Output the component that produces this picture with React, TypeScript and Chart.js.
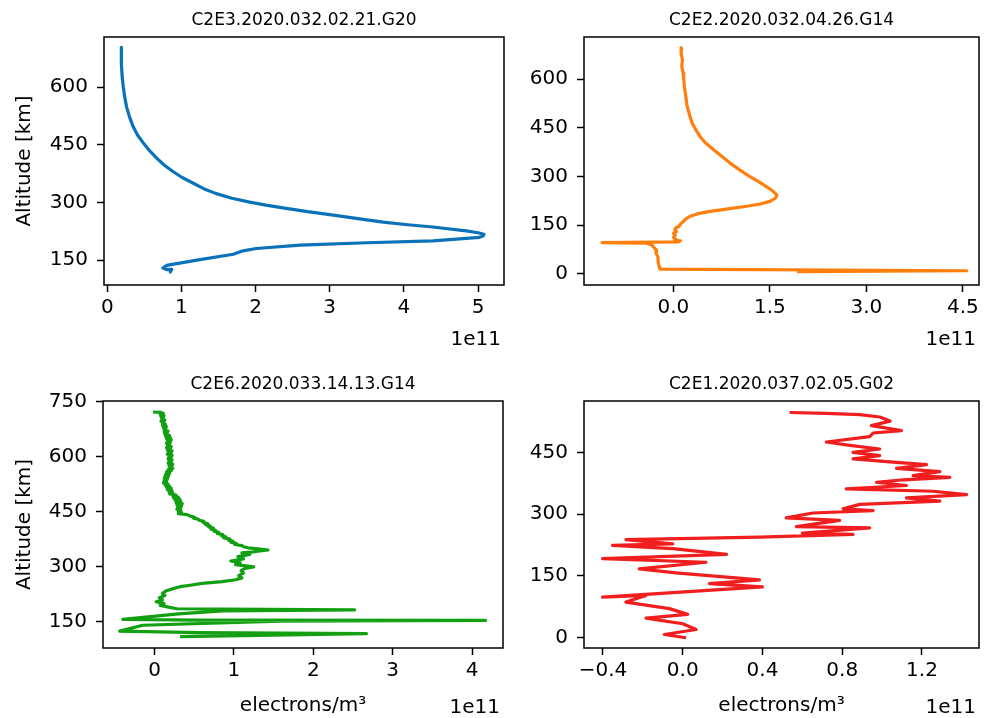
import React, { useEffect, useRef } from "react";
import { Chart, registerables } from "chart.js";

Chart.register(...registerables);

const W = 997;
const H = 718;
const FONT = "'DejaVu Sans', 'Liberation Sans', sans-serif";

// Panel titles
const titles = [
  "C2E3.2020.032.02.21.G20",
  "C2E2.2020.032.04.26.G14",
  "C2E6.2020.033.14.13.G14",
  "C2E1.2020.037.02.05.G02",
];

// Densities are in units of 1e11 electrons/m^3, altitudes in km
const p1Density = [0.19, 0.19, 0.19, 0.2, 0.216, 0.235, 0.26, 0.3, 0.35, 0.41, 0.49, 0.57, 0.67, 0.77, 0.89, 1.01, 1.16, 1.3, 1.47, 1.68, 1.92, 2.14, 2.37, 2.7, 3.05, 3.38, 3.72, 4.05, 4.39, 4.84, 5.0, 5.08, 5.07, 5.02, 4.39, 3.5, 2.6, 2.01, 1.83, 1.7, 1.25, 0.8, 0.75, 0.8, 0.87, 0.85, 0.86];
const p1Altitude = [704, 690, 663, 630, 601, 575, 549, 523, 497, 475, 454, 435, 415, 397, 380, 365, 350, 336, 323, 311, 301, 293, 286, 276, 267, 258, 249, 242, 236, 226, 221, 217, 213, 209, 200, 195, 189, 180, 174, 165, 151, 136, 129, 125, 126, 119, 116];

const p2Density = [0.13, 0.12, 0.14, 0.13, 0.15, 0.16, 0.17, 0.19, 0.21, 0.25, 0.29, 0.35, 0.41, 0.5, 0.62, 0.75, 0.88, 1.03, 1.19, 1.33, 1.45, 1.55, 1.61, 1.58, 1.5, 1.35, 1.14, 0.85, 0.57, 0.38, 0.26, 0.19, 0.15, 0.12, 0.1, 0.08, 0.04, 0.02, 0.05, 0.0, 0.03, 0.0, 0.04, 0.02, 0.11, 0.08, -1.11, -0.42, -0.33, -0.3, -0.26, -0.27, -0.24, -0.24, -0.23, -0.22, -0.21, 4.56, 1.92];
const p2Altitude = [697, 680, 660, 640, 620, 600, 577, 550, 520, 490, 465, 443, 424, 403, 383, 362, 341, 320, 299, 283, 268, 254, 242, 232, 223, 215, 208, 200, 192, 185, 177, 168, 160, 155, 150, 145, 142, 136, 130, 125, 119, 112, 106, 103, 101, 98, 96, 94, 88, 80, 72, 62, 52, 40, 28, 20, 14, 9, 6];

const p3Density = [
  -0.02, 0.08, 0.11, 0.07, 0.12, 0.08, 0.11, 0.09, 0.13, 0.08,
  0.12, 0.1, 0.14, 0.1, 0.15, 0.11, 0.14, 0.12, 0.17, 0.12,
  0.16, 0.13, 0.19, 0.14, 0.2, 0.15, 0.21, 0.16, 0.2, 0.15,
  0.19, 0.16, 0.21, 0.15, 0.2, 0.16, 0.22, 0.17, 0.21, 0.16,
  0.22, 0.18, 0.21, 0.17, 0.22, 0.18, 0.21, 0.17, 0.23, 0.18,
  0.22, 0.19, 0.23, 0.17, 0.21, 0.15, 0.19, 0.14, 0.18, 0.13,
  0.17, 0.12, 0.16, 0.12, 0.15, 0.11, 0.17, 0.13, 0.19, 0.15,
  0.21, 0.16, 0.22, 0.18, 0.23, 0.19, 0.27, 0.23, 0.3, 0.24,
  0.32, 0.26, 0.33, 0.27, 0.35, 0.28, 0.34, 0.29, 0.33, 0.28,
  0.33, 0.3, 0.34, 0.3, 0.42, 0.44, 0.5, 0.49, 0.55, 0.56,
  0.62, 0.61, 0.67, 0.64, 0.7, 0.68, 0.74, 0.71, 0.77, 0.75,
  0.81, 0.79, 0.86, 0.84, 0.9, 0.87, 0.95, 0.93, 0.99, 0.96,
  1.03, 1.01, 1.1, 1.12, 1.18, 1.3, 1.43, 1.3,
  1.22, 1.1, 1.2, 1.05, 1.12, 0.96, 1.08, 1.02, 1.25, 1.14,
  1.09, 1.12, 1.06, 1.1, 1.02, 0.85, 0.6, 0.45, 0.32, 0.22,
  0.14, 0.1, 0.13, 0.06, 0.1, 0.02, 0.12, 0.07, 0.16, 0.28,
  2.52, 0.86, 0.3, -0.4, 0.56, 4.17, 1.58, -0.15, -0.44, 0.56,
  2.67, 0.32,
];
const p3Altitude = [
  722, 721, 718, 715, 712, 709, 706, 703, 700, 697,
  694, 691, 688, 685, 682, 679, 676, 673, 670, 667,
  664, 661, 658, 655, 652, 649, 646, 643, 640, 637,
  634, 631, 628, 625, 622, 619, 616, 613, 610, 607,
  604, 601, 598, 595, 592, 589, 586, 583, 580, 577,
  574, 571, 568, 565, 562, 559, 556, 553, 550, 547,
  544, 541, 538, 535, 532, 529, 526, 523, 520, 517,
  514, 511, 508, 505, 502, 499, 496, 493, 490, 487,
  484, 481, 478, 475, 472, 469, 466, 463, 460, 457,
  454, 451, 448, 445, 442, 439, 436, 433, 430, 427,
  424, 421, 418, 415, 412, 409, 406, 403, 400, 397,
  394, 391, 388, 385, 382, 379, 376, 373, 370, 367,
  364, 361, 358, 355, 352, 349, 346, 343,
  340, 338, 334, 328, 322, 316, 311, 306, 300, 296,
  290, 283, 276, 270, 265, 260, 255, 250, 246, 240,
  234, 228, 222, 216, 210, 205, 200, 195, 191, 186,
  183, 180, 172, 157, 155, 154, 152, 141, 125, 121,
  118, 110,
];

const p4Density = [0.536, 0.72, 0.888, 0.988, 1.04, 0.946, 1.097, 0.955, 0.938, 0.72, 0.838, 0.988, 0.854, 0.988, 0.854, 1.055, 1.223, 1.072, 1.29, 1.156, 1.34, 1.106, 0.972, 1.122, 0.82, 1.256, 1.424, 1.122, 1.29, 0.888, 0.804, 0.955, 0.653, 0.519, 0.787, 0.57, 0.938, 0.6, 0.854, 0.385, -0.285, -0.05, -0.352, -0.05, 0.22, -0.402, 0.117, -0.218, -0.034, 0.385, 0.134, 0.4, -0.402, -0.184, -0.285, -0.067, 0.025, -0.184, 0.0, 0.067, -0.092, 0.017];
const p4Altitude = [548, 546, 543, 537, 527, 516, 504, 498, 489, 476, 468, 459, 451, 443, 435, 427, 421, 412, 404, 394, 390, 384, 378, 370, 362, 356, 348, 340, 332, 324, 313, 309, 303, 291, 285, 270, 267, 254, 251, 244, 238, 228, 224, 216, 202, 192, 183, 167, 157, 140, 131, 123, 98, 102, 86, 70, 56, 47, 33, 19, 7, -1];

// Tick values
const p1XTicks = [0, 1, 2, 3, 4, 5];
const p1YTicks = [150, 300, 450, 600];
const p2XTicks = [0, 1.5, 3.0, 4.5];
const p2YTicks = [0, 150, 300, 450, 600];
const p3XTicks = [0, 1, 2, 3, 4];
const p3YTicks = [150, 300, 450, 600, 750];
const p4XTicks = [-0.4, 0.0, 0.4, 0.8, 1.2];
const p4YTicks = [0, 150, 300, 450];

// Axis ranges
const p1XRange = [-0.044, 5.35];
const p1YRange = [85, 731];
const p2XRange = [-1.39, 4.75];
const p2YRange = [-35, 730];
const p3XRange = [-0.65, 4.39];
const p3YRange = [79, 752];
const p4XRange = [-0.495, 1.486];
const p4YRange = [-26, 576];

const colors = ["#0a72b8", "#ff7f0e", "#12a012", "#f01e1e"];

type Panel = {
  title: string;
  xs: number[];
  ys: number[];
  xTicks: number[];
  yTicks: number[];
  xRange: number[];
  yRange: number[];
  xDec: number;
  color: string;
  area: { L: number; T: number; R: number; B: number };
  padL: number;
  yLabel: boolean;
  xLabel: boolean;
  offsetDy: number;
};

const panels: Panel[] = [
  { title: titles[0], xs: p1Density, ys: p1Altitude, xTicks: p1XTicks, yTicks: p1YTicks, xRange: p1XRange, yRange: p1YRange, xDec: 0, color: colors[0], area: { L: 104, T: 37, R: 504, B: 285 }, padL: 0, yLabel: true, xLabel: false, offsetDy: 60 },
  { title: titles[1], xs: p2Density, ys: p2Altitude, xTicks: p2XTicks, yTicks: p2YTicks, xRange: p2XRange, yRange: p2YRange, xDec: 1, color: colors[1], area: { L: 584, T: 37, R: 979, B: 285 }, padL: 520, yLabel: false, xLabel: false, offsetDy: 60 },
  { title: titles[2], xs: p3Density, ys: p3Altitude, xTicks: p3XTicks, yTicks: p3YTicks, xRange: p3XRange, yRange: p3YRange, xDec: 0, color: colors[2], area: { L: 103, T: 401, R: 503, B: 648 }, padL: 0, yLabel: true, xLabel: true, offsetDy: 65 },
  { title: titles[3], xs: p4Density, ys: p4Altitude, xTicks: p4XTicks, yTicks: p4YTicks, xRange: p4XRange, yRange: p4YRange, xDec: 1, color: colors[3], area: { L: 584, T: 401, R: 979, B: 648 }, padL: 520, yLabel: false, xLabel: true, offsetDy: 65 },
];

const fmt = (v: number, dec: number) => Number(v).toFixed(dec).replace("-", "\u2212");

const framePlugin = {
  id: "frameText",
  afterDraw(chart: any, _args: any, opts: any) {
    const { ctx, chartArea: a } = chart;
    ctx.save();
    ctx.strokeStyle = "#000";
    ctx.lineWidth = 1.5;
    ctx.strokeRect(a.left, a.top, a.right - a.left, a.bottom - a.top);
    ctx.fillStyle = "#000";
    ctx.font = `17px ${FONT}`;
    ctx.textAlign = "center";
    ctx.textBaseline = "alphabetic";
    ctx.fillText(opts.title, (a.left + a.right) / 2, a.top - 12);
    ctx.font = `20px ${FONT}`;
    ctx.textAlign = "right";
    ctx.fillText("1e11", a.right - 3, a.bottom + opts.offsetDy);
    ctx.restore();
  },
};

function PanelChart({ p }: { p: Panel }) {
  const ref = useRef<HTMLCanvasElement | null>(null);
  useEffect(() => {
    if (!ref.current) return;
    const X_AXIS_H = 70;
    const points = p.xs.map((x, i) => ({ x, y: p.ys[i] }));
    const tickFont = { family: FONT, size: 20, lineHeight: 1.2 };
    const chart = new Chart(ref.current, {
      type: "scatter",
      data: {
        datasets: [
          {
            data: points,
            showLine: true,
            borderColor: p.color,
            backgroundColor: p.color,
            borderWidth: 3.2,
            pointRadius: 0,
            fill: false,
            tension: 0,
            borderJoinStyle: "round",
          } as any,
        ],
      },
      options: {
        responsive: false,
        animation: false,
        devicePixelRatio: 1,
        events: [],
        layout: {
          padding: {
            left: p.padL,
            top: p.area.T,
            right: W - p.area.R,
            bottom: H - p.area.B - X_AXIS_H,
          },
        },
        plugins: {
          legend: { display: false },
          tooltip: { enabled: false },
          title: { display: false },
          frameText: { title: p.title, offsetDy: p.offsetDy },
        } as any,
        scales: {
          x: {
            type: "linear",
            min: p.xRange[0],
            max: p.xRange[1],
            afterBuildTicks: (s: any) => {
              s.ticks = p.xTicks.map((v) => ({ value: v }));
            },
            afterFit: (s: any) => {
              s.height = X_AXIS_H;
            },
            grid: { drawOnChartArea: false, drawTicks: true, tickLength: 7, tickWidth: 1.5, tickColor: "#000" },
            border: { display: false },
            ticks: {
              color: "#000",
              font: tickFont,
              padding: 4,
              autoSkip: false,
              maxRotation: 0,
              minRotation: 0,
              callback: (v: any) => fmt(Number(v), p.xDec),
            },
            title: {
              display: p.xLabel,
              text: "electrons/m\u00b3",
              color: "#000",
              font: tickFont,
              padding: { top: 0, bottom: 0 },
            },
          },
          y: {
            type: "linear",
            min: p.yRange[0],
            max: p.yRange[1],
            afterBuildTicks: (s: any) => {
              s.ticks = p.yTicks.map((v) => ({ value: v }));
            },
            afterFit: (s: any) => {
              s.width = p.area.L - p.padL;
            },
            grid: { drawOnChartArea: false, drawTicks: true, tickLength: 7, tickWidth: 1.5, tickColor: "#000" },
            border: { display: false },
            ticks: {
              color: "#000",
              font: tickFont,
              padding: 9,
              autoSkip: false,
              callback: (v: any) => fmt(Number(v), 0),
            },
            title: {
              display: p.yLabel,
              text: "Altitude [km]",
              color: "#000",
              font: tickFont,
              padding: { top: 13, bottom: 0 },
            },
          },
        },
      },
      plugins: [framePlugin as any],
    });
    return () => chart.destroy();
  }, [p]);
  return (
    <canvas
      ref={ref}
      width={W}
      height={H}
      style={{ position: "absolute", left: 0, top: 0, width: W, height: H }}
    />
  );
}

export default function App() {
  useEffect(() => {
    document.body.style.margin = "0";
  }, []);
  return (
    <div style={{ position: "relative", width: W, height: H, background: "#fff", overflow: "hidden" }}>
      {panels.map((p, i) => (
        <PanelChart key={i} p={p} />
      ))}
    </div>
  );
}
